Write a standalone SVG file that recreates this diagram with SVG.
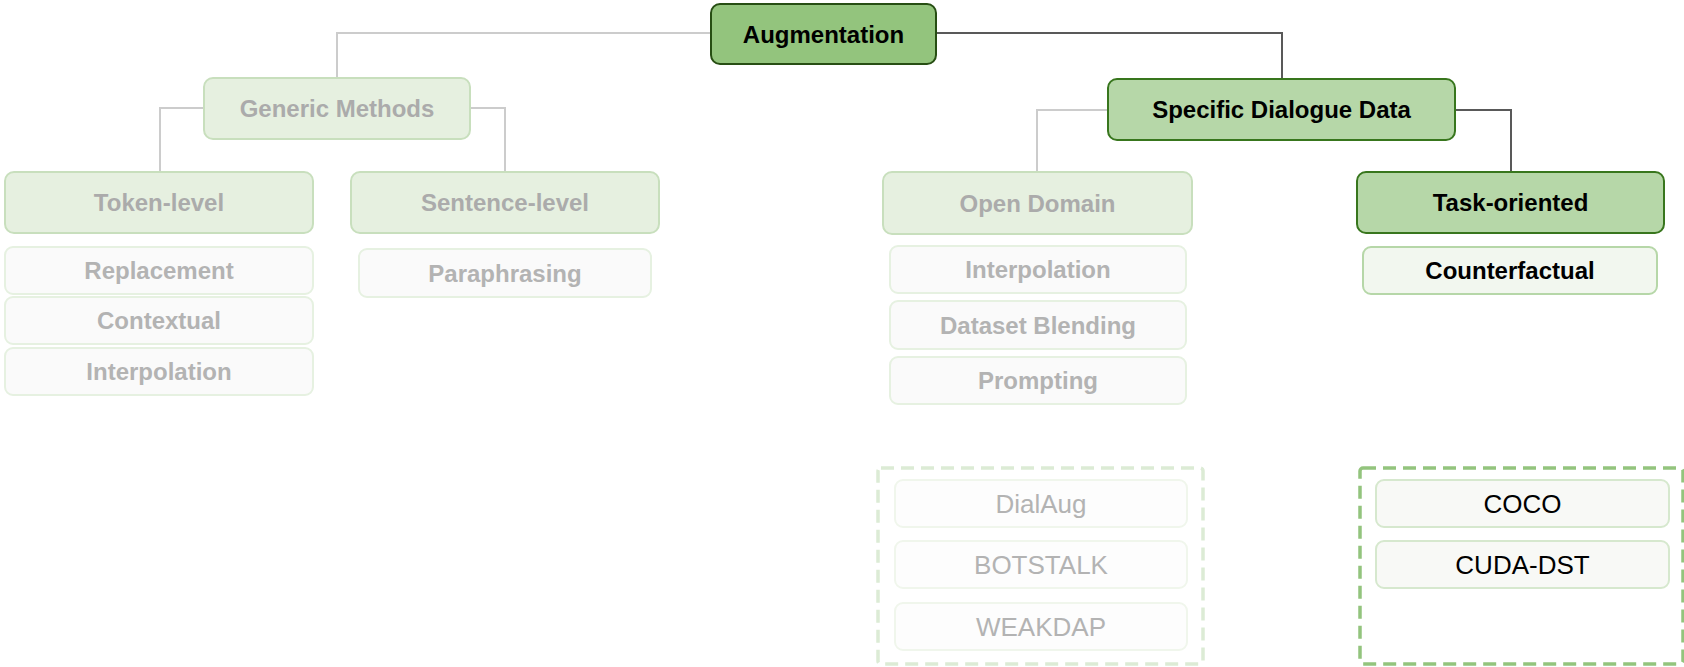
<svg xmlns="http://www.w3.org/2000/svg" width="1684" height="667" viewBox="0 0 1684 667">
  <style>
    text { font-family: "Liberation Sans", Arial, sans-serif; text-anchor: middle; }
    .b { font-weight: bold; font-size: 24px; }
    .r { font-size: 26px; }
    .ink { fill: #000000; }
    .dim { fill: #ababab; }
    .dim2 { fill: #b3b3b3; }
    .root { fill: #93c47d; stroke: #274e13; stroke-width: 2; }
    .main { fill: #b6d7a8; stroke: #38761d; stroke-width: 2; }
    .fade { fill: #e6f0e0; stroke: #c8dfbd; stroke-width: 2; }
    .leaf { fill: #fafafa; stroke: #e6f1e1; stroke-width: 2; }
    .leafon { fill: #f2f7ef; stroke: #b6d7a8; stroke-width: 2; }
    .ref { fill: #fdfdfd; stroke: #f0f6ec; stroke-width: 2; }
    .refon { fill: #f8f9f6; stroke: #d6e8ce; stroke-width: 2; }
    .grp { fill: none; stroke-width: 3.5; stroke-dasharray: 13 7; }
    .e-dim { fill: none; stroke: #cccccc; stroke-width: 2; }
    .e-on { fill: none; stroke: #595959; stroke-width: 2; }
  </style>

  <!-- connectors -->
  <g id="connectors">
    <path class="e-dim" d="M711 33 H337 V78"/>
    <path class="e-on" d="M936 33 H1282 V79"/>
    <path class="e-dim" d="M204 108 H160 V172"/>
    <path class="e-dim" d="M470 108 H505 V172"/>
    <path class="e-dim" d="M1108 110 H1037 V172"/>
    <path class="e-on" d="M1455 110 H1511 V172"/>
  </g>

  <!-- root -->
  <g id="augmentation">
    <rect class="root" x="711" y="4" width="225" height="60" rx="9"/>
    <text class="b ink" x="823.5" y="42.5">Augmentation</text>
  </g>

  <!-- generic branch -->
  <g id="generic-methods">
    <rect class="fade" x="204" y="78" width="266" height="61" rx="9"/>
    <text class="b dim" x="337" y="117">Generic Methods</text>
  </g>
  <g id="token-level">
    <rect class="fade" x="5" y="172" width="308" height="61" rx="9"/>
    <text class="b dim" x="159" y="211">Token-level</text>
  </g>
  <g id="sentence-level">
    <rect class="fade" x="351" y="172" width="308" height="61" rx="9"/>
    <text class="b dim" x="505" y="211">Sentence-level</text>
  </g>
  <g id="replacement">
    <rect class="leaf" x="5" y="247" width="308" height="47" rx="8"/>
    <text class="b dim2" x="159" y="279">Replacement</text>
  </g>
  <g id="contextual">
    <rect class="leaf" x="5" y="297" width="308" height="47" rx="8"/>
    <text class="b dim2" x="159" y="329">Contextual</text>
  </g>
  <g id="token-interpolation">
    <rect class="leaf" x="5" y="348" width="308" height="47" rx="8"/>
    <text class="b dim2" x="159" y="380">Interpolation</text>
  </g>
  <g id="paraphrasing">
    <rect class="leaf" x="359" y="249" width="292" height="48" rx="8"/>
    <text class="b dim2" x="505" y="281.5">Paraphrasing</text>
  </g>

  <!-- dialogue branch -->
  <g id="specific-dialogue-data">
    <rect class="main" x="1108" y="79" width="347" height="61" rx="9"/>
    <text class="b ink" x="1281.5" y="118">Specific Dialogue Data</text>
  </g>
  <g id="open-domain">
    <rect class="fade" x="883" y="172" width="309" height="62" rx="9"/>
    <text class="b dim" x="1037.5" y="211.5">Open Domain</text>
  </g>
  <g id="task-oriented">
    <rect class="main" x="1357" y="172" width="307" height="61" rx="9"/>
    <text class="b ink" x="1510.5" y="211">Task-oriented</text>
  </g>
  <g id="od-interpolation">
    <rect class="leaf" x="890" y="246" width="296" height="47" rx="8"/>
    <text class="b dim2" x="1038" y="278">Interpolation</text>
  </g>
  <g id="dataset-blending">
    <rect class="leaf" x="890" y="301" width="296" height="48" rx="8"/>
    <text class="b dim2" x="1038" y="333.5">Dataset Blending</text>
  </g>
  <g id="prompting">
    <rect class="leaf" x="890" y="357" width="296" height="47" rx="8"/>
    <text class="b dim2" x="1038" y="389">Prompting</text>
  </g>
  <g id="counterfactual">
    <rect class="leafon" x="1363" y="247" width="294" height="47" rx="8"/>
    <text class="b ink" x="1510" y="279">Counterfactual</text>
  </g>

  <!-- method groups -->
  <g id="open-domain-methods">
    <rect class="grp" x="878" y="468" width="325" height="196" rx="3" stroke="#dcebd5"/>
    <g id="dialaug">
      <rect class="ref" x="895" y="480" width="292" height="47" rx="8"/>
      <text class="r dim2" x="1041" y="512.5">DialAug</text>
    </g>
    <g id="botstalk">
      <rect class="ref" x="895" y="541" width="292" height="47" rx="8"/>
      <text class="r dim2" x="1041" y="573.5">BOTSTALK</text>
    </g>
    <g id="weakdap">
      <rect class="ref" x="895" y="603" width="292" height="47" rx="8"/>
      <text class="r dim2" x="1041" y="635.5">WEAKDAP</text>
    </g>
  </g>
  <g id="task-oriented-methods">
    <rect class="grp" x="1360" y="468" width="323" height="196" rx="3" stroke="#93c47d"/>
    <g id="coco">
      <rect class="refon" x="1376" y="480" width="293" height="47" rx="8"/>
      <text class="r ink" x="1522.5" y="512.5">COCO</text>
    </g>
    <g id="cuda-dst">
      <rect class="refon" x="1376" y="541" width="293" height="47" rx="8"/>
      <text class="r ink" x="1522.5" y="573.5">CUDA-DST</text>
    </g>
  </g>
</svg>
